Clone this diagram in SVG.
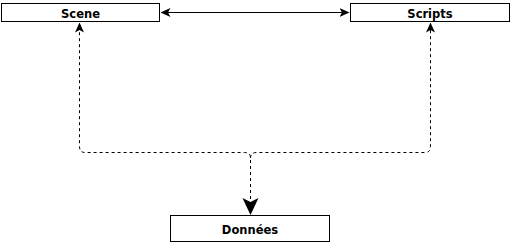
<svg xmlns="http://www.w3.org/2000/svg" width="511" height="243" viewBox="0 0 511 243">
  <style>
    .box { fill: #ffffff; stroke: #000000; stroke-width: 1; }
    .label { font-family: "DejaVu Sans", "Liberation Sans", sans-serif; font-size: 11.5px; font-weight: bold; fill: #000000; text-anchor: middle; }
    .link { fill: none; stroke: #000000; stroke-width: 1; }
    .dash { stroke-dasharray: 3 3; }
  </style>
  <defs>
    <marker id="head" markerWidth="10" markerHeight="10" refX="9" refY="4.5" orient="auto-start-reverse" markerUnits="userSpaceOnUse">
      <path d="M0,0 L10,4.5 L0,9 L2.5,4.5 Z" fill="#000000"/>
    </marker>
    <marker id="bighead" markerWidth="18" markerHeight="18" refX="16" refY="8" orient="auto" markerUnits="userSpaceOnUse">
      <path d="M0,0 L17,8 L0,16 L4,8 Z" fill="#000000"/>
    </marker>
  </defs>

  <g id="connectors">
    <!-- Scene <-> Scripts -->
    <line class="link" x1="161.5" y1="12.5" x2="348.5" y2="12.5" marker-start="url(#head)" marker-end="url(#head)"/>
    <!-- Données feeds both Scene and Scripts -->
    <path class="link dash" d="M250.5,199 V158 Q250.5,152.5 244.5,152.5 H85 Q79.5,152.5 79.5,146.5 V23.5" marker-end="url(#head)"/>
    <path class="link dash" d="M250.5,158 Q250.5,152.5 256.5,152.5 H425 Q430.5,152.5 430.5,146.5 V23.5" marker-end="url(#head)"/>
    <path class="link dash" d="M250.5,160 V214" marker-end="url(#bighead)"/>
  </g>

  <g id="scene">
    <rect class="box" x="1.5" y="3.5" width="158" height="18"/>
    <text class="label" x="80.5" y="17.5">Scene</text>
  </g>

  <g id="scripts">
    <rect class="box" x="350.5" y="3.5" width="159" height="18"/>
    <text class="label" x="430" y="17.5">Scripts</text>
  </g>

  <g id="donnees">
    <rect class="box" x="170.5" y="215.5" width="159" height="26"/>
    <text class="label" x="250" y="233.5">Données</text>
  </g>
</svg>
